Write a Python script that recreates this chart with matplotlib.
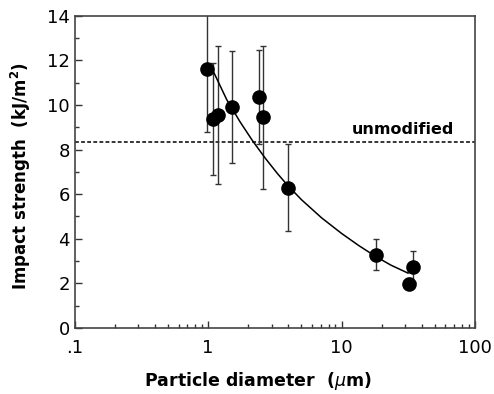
import matplotlib
matplotlib.use("Agg")
import matplotlib.pyplot as plt

# measured points (particle diameter in um, impact strength in kJ/m2)
diameter = [0.98, 1.09, 1.19, 1.50, 2.42, 2.59, 3.95, 18.1, 34.2, 32.2]
strength = [11.6, 9.38, 9.55, 9.90, 10.37, 9.44, 6.28, 3.28, 2.75, 1.99]
strength_err = [2.8, 2.5, 3.1, 2.5, 2.1, 3.2, 1.95, 0.7, 0.7, 0.25]

# fitted trend line
fit_x = [1.09, 1.38, 1.74, 2.16, 2.69, 3.31, 3.95, 5.01, 7.08, 10.0, 13.5, 18.1, 23.4, 31.5]
fit_y = [11.52, 10.23, 9.23, 8.38, 7.60, 6.92, 6.39, 5.75, 4.94, 4.24, 3.69, 3.20, 2.82, 2.46]

unmodified = 8.35

x_ticks = [0.1, 1, 10, 100]
x_ticklabels = [".1", "1", "10", "100"]
y_ticks = [0, 2, 4, 6, 8, 10, 12, 14]

fig = plt.figure(figsize=(4.94, 3.94), dpi=100)
ax = fig.add_axes([0.1512, 0.1675, 0.8103, 0.7927])

ax.errorbar(diameter, strength, yerr=strength_err, fmt="none", ecolor="#333333",
            elinewidth=1.0, capsize=2.5, capthick=1.0, zorder=2)
ax.plot(fit_x, fit_y, color="black", lw=1.1, zorder=3)
ax.plot(diameter, strength, "o", color="black", markersize=9.5, zorder=4)
ax.axhline(unmodified, color="black", lw=1.1, linestyle=(0, (2.5, 1.5)), zorder=1)
ax.text(69.7, 8.7, "unmodified", ha="right", va="baseline", fontsize=11.5, fontweight="bold")

ax.set_xscale("log")
ax.set_xlim(0.1, 100)
ax.set_ylim(0, 14)
ax.set_xticks(x_ticks)
ax.set_xticklabels(x_ticklabels)
ax.set_yticks(y_ticks)
ax.set_yticks(range(1, 14, 2), minor=True)

ax.tick_params(which="both", direction="in", top=False, right=False, labelsize=13, colors="#333333",
               labelcolor="black")
ax.tick_params(which="major", length=5, width=1)
ax.tick_params(which="minor", length=3, width=1)
ax.tick_params(axis="x", pad=8)
for s in ax.spines.values():
    s.set_color("#444444")
    s.set_linewidth(1.2)

ax.set_xlabel("Particle diameter  ($\\mu$m)", fontsize=12.5, fontweight="bold")
ax.set_ylabel("Impact strength  (kJ/m$^\\mathbf{2}$)", fontsize=12, fontweight="bold")
ax.xaxis.set_label_coords(0.458, -0.135)
ax.yaxis.set_label_coords(-0.104, 0.485)

fig.savefig("out.png", dpi=100)
